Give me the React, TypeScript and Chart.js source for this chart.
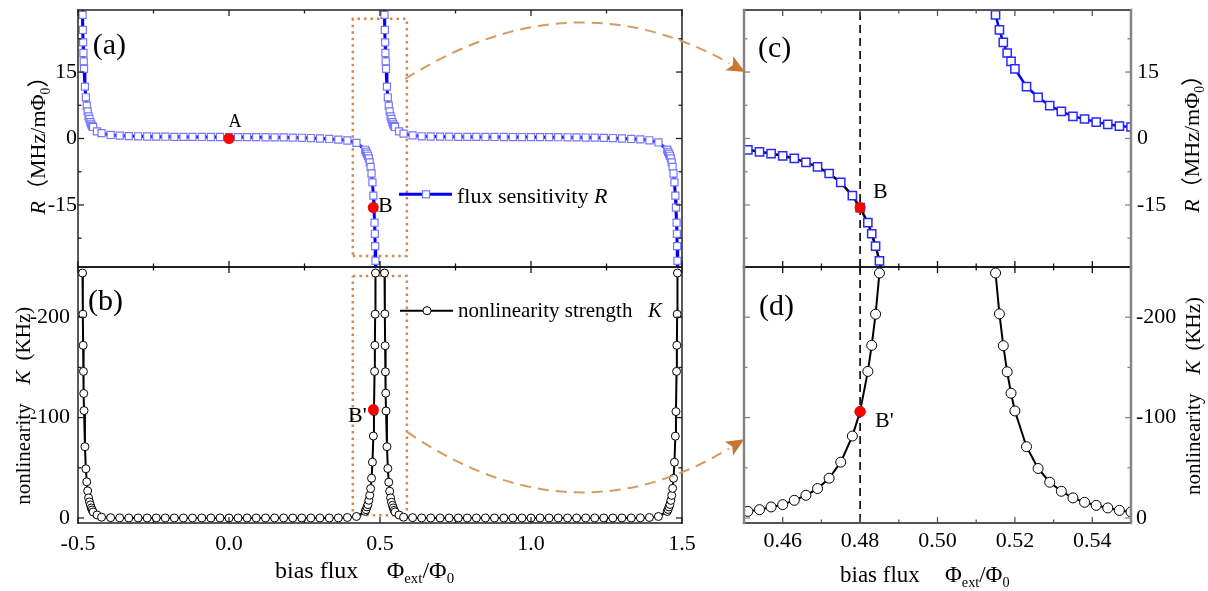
import React, { useEffect, useRef } from 'react';
import { Chart, registerables } from 'chart.js';
Chart.register(...registerables);

const W = 1208;
const H = 591;
const SERIF = "'Liberation Serif', 'Noto Sans CJK SC', serif";

// ---------- data: flux sensitivity R (MHz/mΦ0) ----------
const phiR = [
  -0.4865, -0.485, -0.484, -0.483, -0.482, -0.481, -0.48, -0.477, -0.474, -0.471, -0.468, -0.465, -0.462, -0.459, -0.456, -0.453, -0.45, -0.437,
  -0.422, -0.392, -0.362, -0.332, -0.301, -0.271, -0.241, -0.211, -0.181, -0.151, -0.121, -0.09, -0.06, -0.03, 0, 0.03, 0.06, 0.09, 0.121, 0.151, 0.181, 0.211, 0.241, 0.271, 0.301, 0.332, 0.362, 0.392, 0.422,
  0.451, 0.454, 0.457, 0.46, 0.463, 0.466, 0.469, 0.472, 0.475, 0.478, 0.48, 0.482, 0.483, 0.484, 0.485, 0.4865,
  0.5,
  0.5135, 0.515, 0.516, 0.517, 0.518, 0.519, 0.52, 0.523, 0.526, 0.529, 0.532, 0.535, 0.538, 0.541, 0.544, 0.547, 0.55, 0.563,
  0.578, 0.608, 0.638, 0.668, 0.699, 0.729, 0.759, 0.789, 0.819, 0.849, 0.879, 0.91, 0.94, 0.97, 1.0, 1.03, 1.06, 1.09, 1.121, 1.151, 1.181, 1.211, 1.241, 1.271, 1.301, 1.332, 1.362, 1.392, 1.422,
  1.451, 1.454, 1.457, 1.46, 1.463, 1.466, 1.469, 1.472, 1.475, 1.478, 1.48, 1.482, 1.483, 1.484, 1.485, 1.4865,
];
const sensR: (number | null)[] = [
  34.2, 27.9, 24.5, 21.7, 19.3, 17.4, 15.7, 11.7, 9.3, 7.4, 6.1, 5.0, 4.4, 3.7, 3.2, 2.8, 2.6, 1.6,
  1.2, 0.8, 0.65, 0.55, 0.5, 0.45, 0.42, 0.4, 0.38, 0.37, 0.36, 0.35, 0.34, 0.34, 0.33, 0.32, 0.3, 0.3, 0.28, 0.26, 0.24, 0.2, 0.16, 0.1, 0.0, -0.1, -0.25, -0.45, -1.0,
  -2.55, -3.0, -3.4, -3.9, -4.5, -5.4, -6.4, -7.9, -9.9, -12.9, -15.6, -19.0, -21.5, -24.3, -27.6, -34.2,
  null,
  34.2, 27.9, 24.5, 21.7, 19.3, 17.4, 15.7, 11.7, 9.3, 7.4, 6.1, 5.0, 4.4, 3.7, 3.2, 2.8, 2.6, 1.6,
  1.1, 0.7, 0.5, 0.45, 0.42, 0.4, 0.38, 0.37, 0.36, 0.35, 0.35, 0.34, 0.33, 0.33, 0.32, 0.31, 0.3, 0.29, 0.27, 0.25, 0.22, 0.19, 0.15, 0.1, 0.0, -0.1, -0.2, -0.4, -0.9,
  -2.5, -3.0, -3.4, -3.9, -4.5, -5.4, -6.4, -7.9, -9.9, -12.9, -15.6, -19.0, -21.5, -24.3, -27.6, -34.2,
];

// ---------- data: nonlinearity strength K (KHz) ----------
const phiK = [
  -0.485, -0.484, -0.483, -0.482, -0.481, -0.48, -0.477, -0.474, -0.471, -0.468, -0.465, -0.462, -0.459, -0.456, -0.453, -0.45, -0.437,
  -0.422, -0.392, -0.362, -0.332, -0.301, -0.271, -0.241, -0.211, -0.181, -0.151, -0.121, -0.09, -0.06, -0.03, 0, 0.03, 0.06, 0.09, 0.121, 0.151, 0.181, 0.211, 0.241, 0.271, 0.301, 0.332, 0.362, 0.392, 0.422,
  0.451, 0.454, 0.457, 0.46, 0.463, 0.466, 0.469, 0.472, 0.475, 0.478, 0.48, 0.482, 0.483, 0.484, 0.485,
  0.5,
  0.515, 0.516, 0.517, 0.518, 0.519, 0.52, 0.523, 0.526, 0.529, 0.532, 0.535, 0.538, 0.541, 0.544, 0.547, 0.55, 0.563,
  0.578, 0.608, 0.638, 0.668, 0.699, 0.729, 0.759, 0.789, 0.819, 0.849, 0.879, 0.91, 0.94, 0.97, 1.0, 1.03, 1.06, 1.09, 1.121, 1.151, 1.181, 1.211, 1.241, 1.271, 1.301, 1.332, 1.362, 1.392, 1.422,
  1.451, 1.454, 1.457, 1.46, 1.463, 1.466, 1.469, 1.472, 1.475, 1.478, 1.48, 1.482, 1.483, 1.484, 1.485,
];
const nonlinK: (number | null)[] = [
  -244, -203, -172, -146, -124, -107, -71, -49, -36, -27, -20, -16, -13, -10, -8, -6, -3,
  -0.8, -0.3, -0.1, 0, 0, 0, 0, 0, 0, 0, 0, 0, 0, 0, 0, 0, 0, 0, 0, 0, 0, 0, 0, 0, 0, 0, -0.1, -0.5, -1.5,
  -6.6, -8.3, -11, -13.3, -17.6, -22.6, -29.3, -39.6, -55.6, -81.6, -106, -146, -172, -203, -244,
  null,
  -244, -203.3, -171.6, -145.6, -124.3, -106.6, -71, -49.3, -35.6, -26.6, -20, -15.6, -12.6, -10, -7.6, -6, -3,
  -0.8, -0.3, -0.1, 0, 0, 0, 0, 0, 0, 0, 0, 0, 0, 0, 0, 0, 0, 0, 0, 0, 0, 0, 0, 0, 0, 0, -0.1, -0.5, -1.5,
  -6.5, -8.5, -11, -13.5, -17.5, -22.5, -29.5, -39.5, -55.5, -81.5, -106, -146, -172, -203, -244,
];

// ---------- highlighted points ----------
const markA_phi = [0, 0.4775];      // A and B in (a)
const markA_R = [0, -15.6];
const markB_phi = [0.478];          // B' in (b)
const markB_K = [-108];
const zoomB_phi = [0.48];           // B in (c), B' in (d)
const zoomB_R = [-15.6];
const zoomB_K = [-106];
const workPhi = 0.48;               // dashed working-point line

// ---------- axes ----------
const xTicksMain = [-0.5, 0, 0.5, 1, 1.5];
const xMinorMain = [-0.25, 0.25, 0.75, 1.25];
const xTicksZoom = [0.46, 0.48, 0.5, 0.52, 0.54];
const xMinorZoom = [0.47, 0.49, 0.51, 0.53];
const rTicks = [-15, 0, 15];
const rMinor = [-22.5, -7.5, 7.5, 22.5];
const kTicks = [-200, -100, 0];
const kMinor = [-150, -50];

// zoom boxes in (a),(b)
const boxPhi = [0.41, 0.589];
const boxR = [-26.5, 27];
const boxK = [-241, -2.7];

type Run = { t?: string; it?: boolean; sub?: boolean; gap?: number };
const fontStr = (size: number, it?: boolean) => `${it ? 'italic ' : ''}${size}px ${SERIF}`;

function runsWidth(ctx: CanvasRenderingContext2D, runs: Run[], size: number) {
  let w = 0;
  for (const r of runs) {
    w += r.gap || 0;
    if (r.t) {
      ctx.font = fontStr(r.sub ? size * 0.62 : size, r.it);
      w += ctx.measureText(r.t).width;
    }
  }
  return w;
}
function drawRuns(ctx: CanvasRenderingContext2D, runs: Run[], x: number, y: number, size: number, center = false, rot = false) {
  ctx.save();
  ctx.translate(x, y);
  if (rot) ctx.rotate(-Math.PI / 2);
  let cx = center ? -runsWidth(ctx, runs, size) / 2 : 0;
  ctx.textAlign = 'left';
  ctx.textBaseline = 'alphabetic';
  ctx.fillStyle = '#000';
  for (const r of runs) {
    cx += r.gap || 0;
    if (!r.t) continue;
    const s = r.sub ? size * 0.62 : size;
    ctx.font = fontStr(s, r.it);
    ctx.fillText(r.t, cx, r.sub ? size * 0.22 : 0);
    cx += ctx.measureText(r.t).width;
  }
  ctx.restore();
}

const rTitle: Run[] = [{ t: 'R', it: true }, { t: '（MHz/mΦ' }, { t: '0', sub: true }, { t: '）' }];
const kTitle: Run[] = [{ t: 'nonlinearity' }, { gap: 19 }, { t: 'K', it: true }, { gap: 10 }, { t: '(KHz)' }];
const phiTitle: Run[] = [{ t: 'Φ' }, { t: 'ext', sub: true }, { t: '/Φ' }, { t: '0', sub: true }];

const pts = (xs: number[], ys: (number | null)[]) => xs.map((x, i) => ({ x, y: ys[i] }));
const boxPts = (ys: number[]) => [
  { x: boxPhi[0], y: ys[0] }, { x: boxPhi[1], y: ys[0] }, { x: boxPhi[1], y: ys[1] }, { x: boxPhi[0], y: ys[1] }, { x: boxPhi[0], y: ys[0] },
];

type Side = { color: string; width: number };
interface FrameCfg { xMaj: number[]; xMin: number[]; yMaj: number[]; yMin: number[]; top: Side; bottom: Side; left: Side; right: Side }
function framePlugin(f: FrameCfg) {
  return {
    id: 'frame',
    afterDatasetsDraw(chart: any) {
      const ctx: CanvasRenderingContext2D = chart.ctx;
      const a = chart.chartArea;
      const xs = chart.scales.x;
      const ys = chart.scales.y;
      ctx.save();
      ctx.setLineDash([]);
      const seg = (s: Side, w: number, x1: number, y1: number, x2: number, y2: number) => {
        ctx.strokeStyle = s.color;
        ctx.lineWidth = w;
        ctx.beginPath();
        ctx.moveTo(x1, y1);
        ctx.lineTo(x2, y2);
        ctx.stroke();
      };
      const xl: [number[], number][] = [[f.xMaj, 6], [f.xMin, 3.5]];
      for (const [list, len] of xl) for (const v of list) {
        const px = xs.getPixelForValue(v);
        seg(f.bottom, 1.3, px, a.bottom, px, a.bottom - len);
        seg(f.top, 1.3, px, a.top, px, a.top + len);
      }
      const yl: [number[], number][] = [[f.yMaj, 6], [f.yMin, 3.5]];
      for (const [list, len] of yl) for (const v of list) {
        const py = ys.getPixelForValue(v);
        seg(f.left, 1.3, a.left, py, a.left + len, py);
        seg(f.right, 1.3, a.right, py, a.right - len, py);
      }
      ctx.lineCap = 'square';
      seg(f.top, f.top.width, a.left, a.top, a.right, a.top);
      seg(f.bottom, f.bottom.width, a.left, a.bottom, a.right, a.bottom);
      seg(f.left, f.left.width, a.left, a.top, a.left, a.bottom);
      seg(f.right, f.right.width, a.right, a.top, a.right, a.bottom);
      ctx.restore();
    },
  };
}
function decoPlugin(draw: (ctx: CanvasRenderingContext2D) => void) {
  return {
    id: 'deco',
    afterDraw(chart: any) {
      const ctx: CanvasRenderingContext2D = chart.ctx;
      ctx.save();
      draw(ctx);
      ctx.restore();
    },
  };
}

const tickFont = { family: SERIF, size: 22 };

function yAxis(min: number, max: number, ticks: number[], position: string, padding: number, reverse = false) {
  return {
    type: 'linear', position, min, max, reverse,
    afterBuildTicks: (s: any) => { s.ticks = ticks.map((v) => ({ value: v })); },
    afterFit: (s: any) => { s.width = 60; s.paddingTop = 0; s.paddingBottom = 0; },
    ticks: { font: tickFont, color: '#000', padding, autoSkip: false, callback: (v: number) => String(v) },
    grid: { display: false, drawTicks: false },
    border: { display: false },
  };
}
function xAxis(min: number, max: number, ticks: number[], digits: number, padding: number) {
  return {
    type: 'linear', position: 'bottom', min, max,
    afterBuildTicks: (s: any) => { s.ticks = ticks.map((v) => ({ value: v })); },
    afterFit: (s: any) => { s.height = 30; s.paddingLeft = 0; s.paddingRight = 0; },
    ticks: { font: tickFont, color: '#000', padding, autoSkip: false, maxRotation: 0, minRotation: 0, callback: (v: number) => v.toFixed(digits) },
    grid: { display: false, drawTicks: false },
    border: { display: false },
  };
}
const xHidden = (min: number, max: number) => ({ type: 'linear', min, max, display: false });

function baseOptions(padding: any, scales: any) {
  return {
    responsive: false,
    animation: false,
    devicePixelRatio: 1,
    events: [],
    layout: { padding },
    plugins: { legend: { display: false }, tooltip: { enabled: false } },
    elements: { line: { tension: 0 } },
    scales,
  };
}

const leftSide: Side = { color: '#222', width: 1.5 };
const grayV: Side = { color: '#858585', width: 2.5 };
const grayH: Side = { color: '#555', width: 2 };
const divider: Side = { color: '#111', width: 1.5 };

const redDot = (data: any[]) => ({
  data, showLine: false, pointRadius: 5.5, pointStyle: 'circle', pointBackgroundColor: '#ff0000', pointBorderColor: '#ff0000', pointBorderWidth: 0, order: 0,
});
const boxSet = (data: any[]) => ({
  data, borderColor: '#d08a4e', borderWidth: 2.5, borderDash: [2.5, 4], pointRadius: 0, order: 20,
});

function dashedArrow(ctx: CanvasRenderingContext2D, p0: number[], c: number[], p1: number[]) {
  const tipLen = 18, half = 8;
  const dx = p1[0] - c[0], dy = p1[1] - c[1];
  const L = Math.hypot(dx, dy);
  const ux = dx / L, uy = dy / L;
  const bx = p1[0] - ux * tipLen, by = p1[1] - uy * tipLen;
  ctx.strokeStyle = '#d89a62';
  ctx.lineWidth = 2;
  ctx.setLineDash([11, 7]);
  ctx.beginPath();
  ctx.moveTo(p0[0], p0[1]);
  ctx.quadraticCurveTo(c[0], c[1], bx, by);
  ctx.stroke();
  ctx.setLineDash([]);
  ctx.fillStyle = '#c8772f';
  ctx.beginPath();
  ctx.moveTo(p1[0], p1[1]);
  ctx.lineTo(bx - uy * half, by + ux * half);
  ctx.lineTo(bx + ux * 4, by + uy * 4);
  ctx.lineTo(bx + uy * half, by - ux * half);
  ctx.closePath();
  ctx.fill();
}

function cfgA(): any {
  return {
    type: 'line',
    data: {
      datasets: [
        { data: pts(phiR, sensR), borderColor: '#0000ff', borderWidth: 3, pointStyle: 'rect', pointRadius: 5, pointBorderColor: '#7676ff', pointBackgroundColor: '#ffffff', pointBorderWidth: 1.2, order: 2 },
        redDot(pts(markA_phi, markA_R)),
        boxSet(boxPts(boxR)),
      ],
    },
    options: baseOptions({ left: 18, top: 10, right: 526, bottom: 324 }, {
      x: xHidden(-0.5, 1.5),
      y: yAxis(-29, 29, rTicks, 'left', 1),
    }),
    plugins: [
      framePlugin({ xMaj: xTicksMain, xMin: xMinorMain, yMaj: rTicks, yMin: rMinor, top: leftSide, bottom: divider, left: leftSide, right: leftSide }),
      decoPlugin((ctx) => {
        drawRuns(ctx, [{ t: '(a)' }], 92.7, 54, 30);
        drawRuns(ctx, [{ t: 'A' }], 228.5, 127, 18);
        drawRuns(ctx, [{ t: 'B' }], 378, 212, 22);
        drawRuns(ctx, rTitle, 45, 140, 22, true, true);
        ctx.strokeStyle = '#0000ff';
        ctx.lineWidth = 3;
        ctx.beginPath(); ctx.moveTo(399, 194.3); ctx.lineTo(452, 194.3); ctx.stroke();
        ctx.fillStyle = '#fff';
        ctx.fillRect(422.5, 190.8, 7, 7);
        ctx.strokeStyle = '#7676ff'; ctx.lineWidth = 1.2;
        ctx.strokeRect(422.5, 190.8, 7, 7);
        drawRuns(ctx, [{ t: 'flux sensitivity ' }, { t: 'R', it: true }], 457, 203, 22);
      }),
    ],
  };
}

function cfgB(): any {
  return {
    type: 'line',
    data: {
      datasets: [
        { data: pts(phiK, nonlinK), borderColor: '#000', borderWidth: 2, pointStyle: 'circle', pointRadius: 4, pointBorderColor: '#000', pointBackgroundColor: '#fff', pointBorderWidth: 1, order: 2 },
        redDot(pts(markB_phi, markB_K)),
        boxSet(boxPts(boxK)),
      ],
    },
    options: baseOptions({ left: 18, top: 267, right: 526, bottom: 38 }, {
      x: xAxis(-0.5, 1.5, xTicksMain, 1, 8),
      y: yAxis(-250, 5, kTicks, 'left', 8, true),
    }),
    plugins: [
      framePlugin({ xMaj: xTicksMain, xMin: xMinorMain, yMaj: kTicks, yMin: kMinor, top: divider, bottom: leftSide, left: leftSide, right: leftSide }),
      decoPlugin((ctx) => {
        drawRuns(ctx, [{ t: '(b)' }], 88, 310, 30);
        drawRuns(ctx, [{ t: "B'" }], 348, 422, 22);
        drawRuns(ctx, kTitle, 29.5, 405.8, 21, true, true);
        drawRuns(ctx, [{ t: 'bias flux' }], 275, 578, 24);
        drawRuns(ctx, phiTitle, 386.7, 578, 24);
        ctx.strokeStyle = '#000';
        ctx.lineWidth = 2;
        ctx.beginPath(); ctx.moveTo(400, 310.7); ctx.lineTo(453, 310.7); ctx.stroke();
        ctx.fillStyle = '#fff'; ctx.lineWidth = 1;
        ctx.beginPath(); ctx.arc(427, 310.7, 4, 0, Math.PI * 2); ctx.fill(); ctx.stroke();
        drawRuns(ctx, [{ t: 'nonlinearity strength' }], 458, 316.5, 21);
        drawRuns(ctx, [{ t: 'K', it: true }], 648, 316.5, 21);
      }),
    ],
  };
}

function cfgC(): any {
  return {
    type: 'line',
    data: {
      datasets: [
        {
          data: pts(phiR, sensR), borderColor: '#0000ff', borderWidth: 2.5, pointStyle: 'rect', pointRadius: 5.8, pointBorderColor: '#2828ff', pointBackgroundColor: '#ffffff', pointBorderWidth: 1.5, order: 2,
          segment: { borderColor: (c: any) => (c.p0.parsed.x < 0.5 ? '#000000' : '#0000ff') },
        },
        redDot(pts(zoomB_phi, zoomB_R)),
        { data: [{ x: workPhi, y: -29 }, { x: workPhi, y: 29 }], borderColor: '#000', borderWidth: 1.6, borderDash: [8, 5], pointRadius: 0, order: 10 },
      ],
    },
    options: baseOptions({ left: 744, top: 10, right: 17, bottom: 324 }, {
      x: xHidden(0.45, 0.55),
      y: yAxis(-29, 29, rTicks, 'right', 6),
    }),
    plugins: [
      framePlugin({ xMaj: xTicksZoom, xMin: xMinorZoom, yMaj: rTicks, yMin: rMinor, top: grayH, bottom: divider, left: grayV, right: grayV }),
      decoPlugin((ctx) => {
        drawRuns(ctx, [{ t: '(c)' }], 758, 57, 30);
        drawRuns(ctx, [{ t: 'B' }], 873, 198, 22);
        drawRuns(ctx, rTitle, 1199, 138.3, 22, true, true);
      }),
    ],
  };
}

function cfgD(): any {
  return {
    type: 'line',
    data: {
      datasets: [
        { data: pts(phiK, nonlinK), borderColor: '#000', borderWidth: 2, pointStyle: 'circle', pointRadius: 5, pointBorderColor: '#000', pointBackgroundColor: '#fff', pointBorderWidth: 1, order: 2 },
        redDot(pts(zoomB_phi, zoomB_K)),
        { data: [{ x: workPhi, y: -250 }, { x: workPhi, y: 5 }], borderColor: '#000', borderWidth: 1.6, borderDash: [8, 5], pointRadius: 0, order: 10 },
      ],
    },
    options: baseOptions({ left: 744, top: 267, right: 17, bottom: 38 }, {
      x: xAxis(0.45, 0.55, xTicksZoom, 2, 5),
      y: yAxis(-250, 5, kTicks, 'right', 5, true),
    }),
    plugins: [
      framePlugin({ xMaj: xTicksZoom, xMin: xMinorZoom, yMaj: kTicks, yMin: kMinor, top: divider, bottom: grayH, left: grayV, right: grayV }),
      decoPlugin((ctx) => {
        drawRuns(ctx, [{ t: '(d)' }], 759, 315, 30);
        drawRuns(ctx, [{ t: "B'" }], 875, 427, 22);
        drawRuns(ctx, kTitle, 1200, 396, 21, true, true);
        drawRuns(ctx, [{ t: 'bias flux' }], 840, 582, 23);
        drawRuns(ctx, phiTitle, 945, 582, 23);
        dashedArrow(ctx, [405, 79], [570.5, -25.5], [745, 72]);
        dashedArrow(ctx, [406.7, 431.7], [571, 544], [744.3, 439.3]);
      }),
    ],
  };
}

export default function App() {
  const r0 = useRef<HTMLCanvasElement>(null);
  const r1 = useRef<HTMLCanvasElement>(null);
  const r2 = useRef<HTMLCanvasElement>(null);
  const r3 = useRef<HTMLCanvasElement>(null);
  useEffect(() => {
    const charts = [
      new Chart(r0.current as HTMLCanvasElement, cfgA()),
      new Chart(r1.current as HTMLCanvasElement, cfgB()),
      new Chart(r2.current as HTMLCanvasElement, cfgC()),
      new Chart(r3.current as HTMLCanvasElement, cfgD()),
    ];
    return () => charts.forEach((c) => c.destroy());
  }, []);
  const st: React.CSSProperties = { position: 'absolute', left: 0, top: 0, width: W, height: H };
  return (
    <div style={{ position: 'fixed', left: 0, top: 0, width: W, height: H, background: '#fff' }}>
      <canvas ref={r0} width={W} height={H} style={st} />
      <canvas ref={r1} width={W} height={H} style={st} />
      <canvas ref={r2} width={W} height={H} style={st} />
      <canvas ref={r3} width={W} height={H} style={st} />
    </div>
  );
}
